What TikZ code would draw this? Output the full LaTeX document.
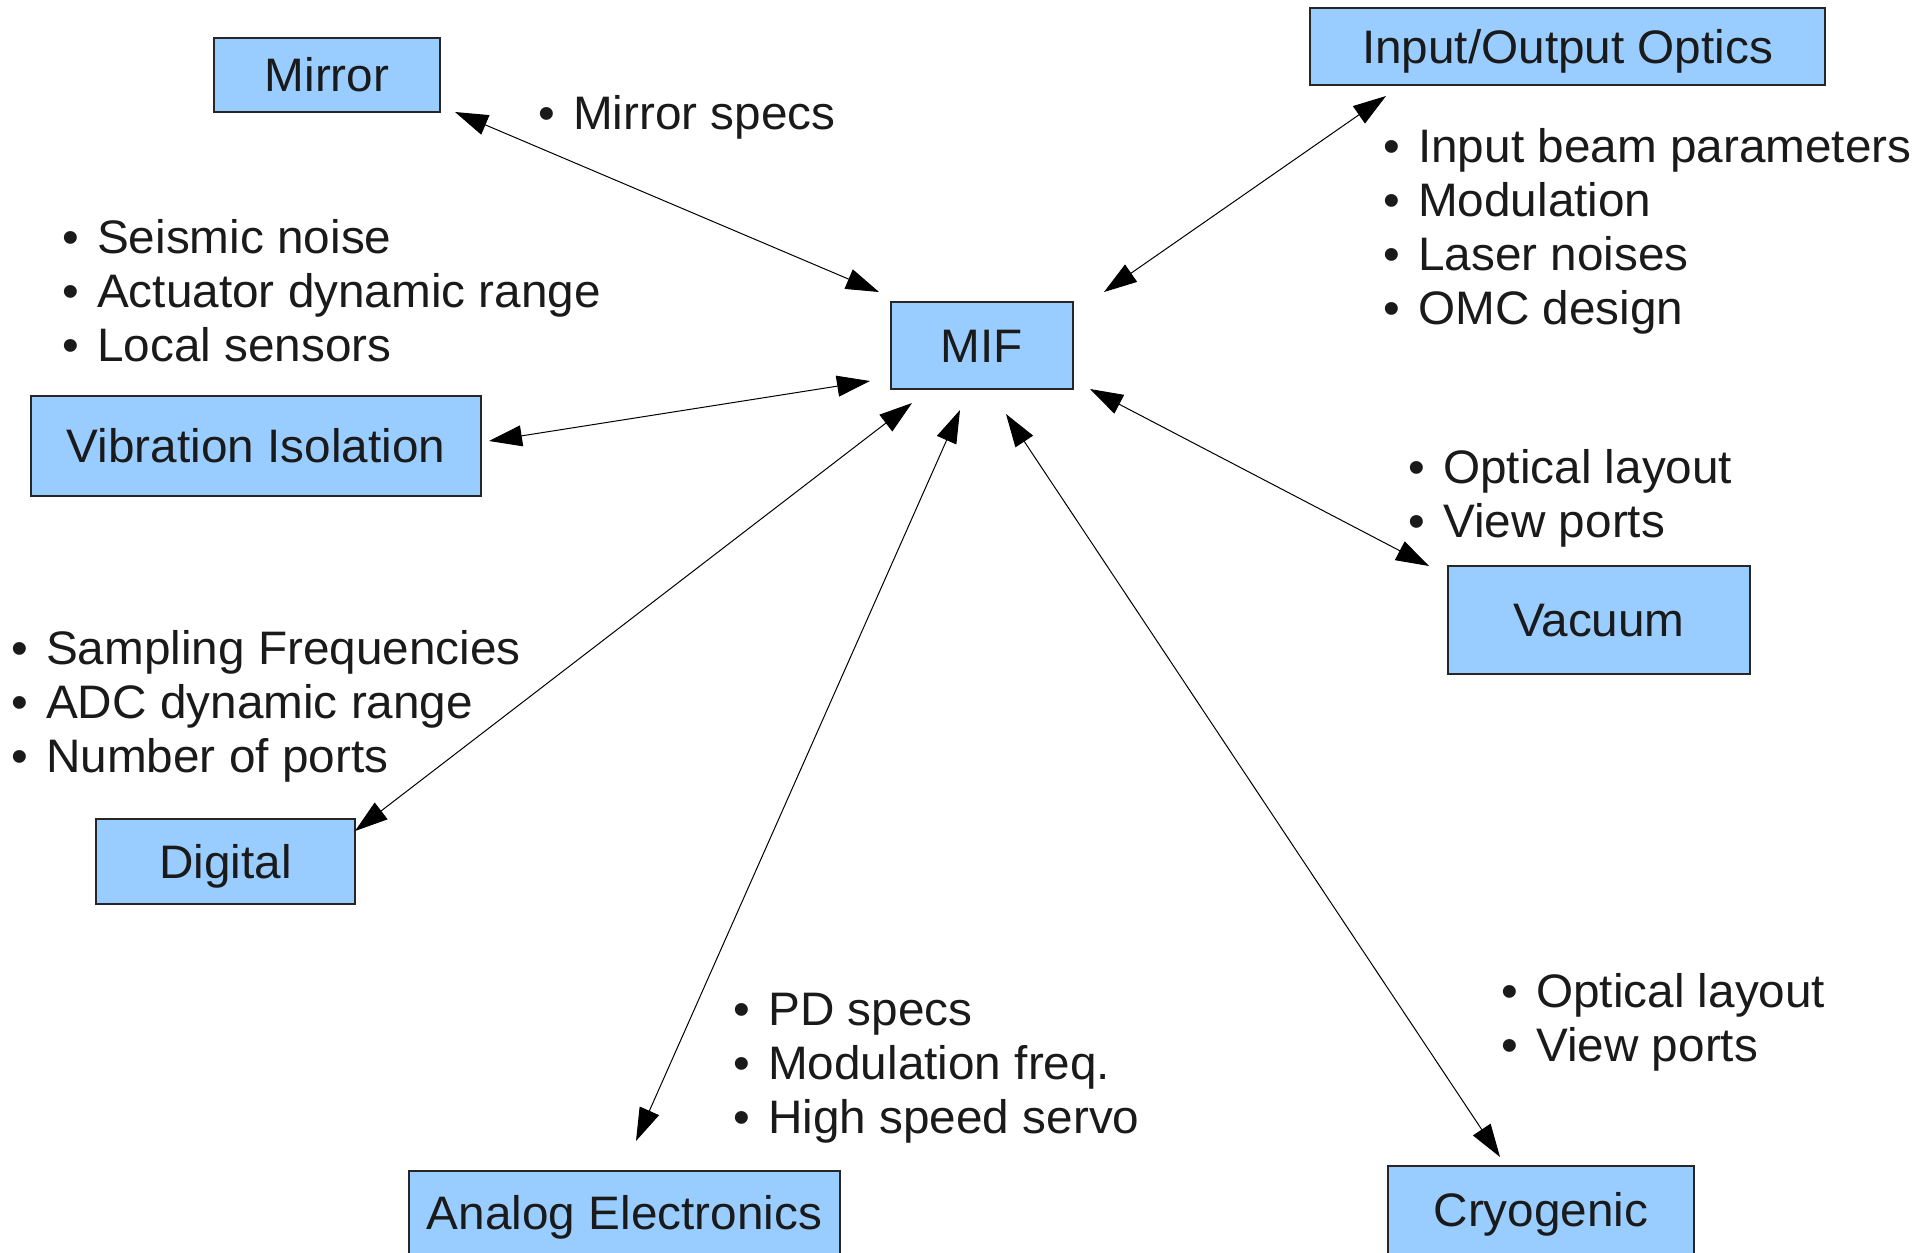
\documentclass[tikz,border=0pt]{standalone}
\usepackage{fontspec}
\setmainfont{Liberation Sans}[FakeStretch=1.015]
\usetikzlibrary{arrows.meta}
\definecolor{boxblue}{HTML}{99CCFF}
\definecolor{inkcol}{HTML}{1A1A1A}
\newcommand{\bul}{\llap{\textbullet\hspace{0.38em}}}
\begin{document}
\begin{tikzpicture}[x=1pt,y=-1pt,
  box/.style={draw=black!85, fill=boxblue, line width=1.3pt, inner sep=0pt,
    text height=33.7pt, text depth=0pt, text=inkcol,
    font=\fontsize{47pt}{54pt}\selectfont},
  lbl/.style={anchor=base west, inner sep=0pt, text=inkcol,
    font=\fontsize{47pt}{54pt}\selectfont},
  conn/.style={line width=1pt, black, {Triangle[length=33pt,width=21pt]}-{Triangle[length=33pt,width=21pt]}}]
\useasboundingbox (0,0) rectangle (1928,1253);
\fill[white] (0,0) rectangle (1928,1253);
\clip (0,0) rectangle (1928,1253);

% boxes
\node[box, minimum width=226pt, minimum height=74pt] (mirror) at (327,75) {Mirror};
\node[box, minimum width=515pt, minimum height=77pt] (io) at (1567.5,46.5) {Input/Output Optics};
\node[box, minimum width=182pt, minimum height=87pt] (mif) at (982,345.5) {MIF};
\node[box, minimum width=450pt, minimum height=100pt] (vib) at (256,446) {Vibration Isolation};
\node[box, minimum width=302pt, minimum height=108pt] (vac) at (1599,620) {Vacuum};
\node[box, minimum width=259pt, minimum height=85pt] (dig) at (225.5,861.5) {Digital};
\node[box, minimum width=431pt, minimum height=84pt] (ana) at (624.5,1213) {Analog Electronics};
\node[box, minimum width=306pt, minimum height=88pt] (cryo) at (1541,1210) {Cryogenic};

% labels
\node[lbl] (mspec) at (573,129) {\bul Mirror specs};

\node[lbl] (vi1) at (97,253) {\bul Seismic noise};
\node[lbl] (vi2) at (97,307) {\bul Actuator dynamic range};
\node[lbl] (vi3) at (97,361) {\bul Local sensors};

\node[lbl] (io1) at (1418,162) {\bul Input beam parameters};
\node[lbl] (io2) at (1418,216) {\bul Modulation};
\node[lbl] (io3) at (1418,270) {\bul Laser noises};
\node[lbl] (io4) at (1418,324) {\bul OMC design};

\node[lbl] (va1) at (1443,483) {\bul Optical layout};
\node[lbl] (va2) at (1443,537) {\bul View ports};

\node[lbl] (di1) at (46,664) {\bul Sampling Frequencies};
\node[lbl] (di2) at (46,718) {\bul ADC dynamic range};
\node[lbl] (di3) at (46,772) {\bul Number of ports};

\node[lbl] (an1) at (768,1025) {\bul PD specs};
\node[lbl] (an2) at (768,1079) {\bul Modulation freq.};
\node[lbl] (an3) at (768,1133) {\bul High speed servo};

\node[lbl] (cr1) at (1536,1007) {\bul Optical layout};
\node[lbl] (cr2) at (1536,1061) {\bul View ports};

% connector end points
\coordinate (mirA) at (455,112);  \coordinate (mirB) at (879,292);
\coordinate (vibA) at (489,441);  \coordinate (vibB) at (870,381);
\coordinate (ioA)  at (1386,96);  \coordinate (ioB)  at (1104,292);
\coordinate (vacA) at (1090,389); \coordinate (vacB) at (1429,566);
\coordinate (digA) at (912,403);  \coordinate (digB) at (355,831);
\coordinate (anaA) at (960,410);  \coordinate (anaB) at (636,1141);
\coordinate (cryA) at (1006,414); \coordinate (cryB) at (1500,1157);

\draw[conn] (mirA) -- (mirB);
\draw[conn] (vibA) -- (vibB);
\draw[conn] (ioA) -- (ioB);
\draw[conn] (vacA) -- (vacB);
\draw[conn] (digA) -- (digB);
\draw[conn] (anaA) -- (anaB);
\draw[conn] (cryA) -- (cryB);
\end{tikzpicture}
\end{document}
